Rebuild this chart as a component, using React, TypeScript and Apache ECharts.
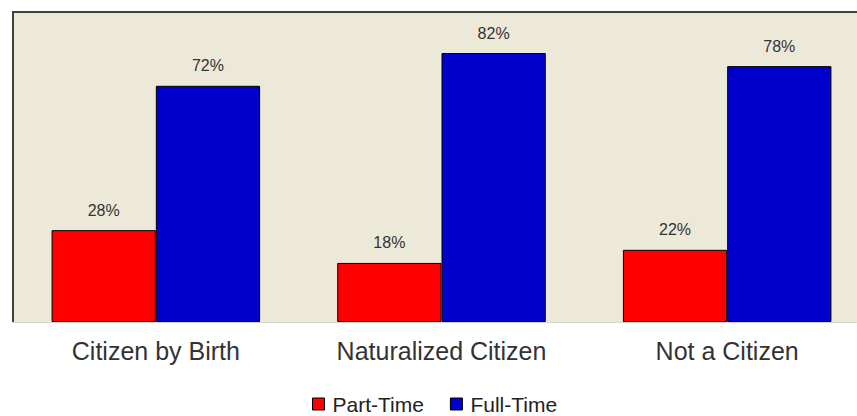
import React, { useEffect, useRef } from "react";
import * as echarts from "echarts";

const categories = ["Citizen by Birth", "Naturalized Citizen", "Not a Citizen"];
const partTime = [28, 18, 22];
const fullTime = [72, 82, 78];
const seriesNames = ["Part-Time", "Full-Time"];

const FONT = "'Liberation Sans', Arial, sans-serif";

export default function App() {
  const ref = useRef<HTMLDivElement>(null);
  useEffect(() => {
    if (!ref.current) return;
    const chart = echarts.init(ref.current, null, { renderer: "svg" });
    const label = {
      show: true,
      position: "top" as const,
      distance: 12,
      formatter: "{c}%",
      color: "#333",
      fontSize: 16,
      fontFamily: FONT,
    };
    chart.setOption({
      animation: false,
      grid: {
        left: 13,
        right: 0,
        top: 12,
        bottom: 94,
        show: true,
        backgroundColor: "#ECE9D8",
        borderWidth: 0,
      },
      legend: {
        top: 393,
        left: 312,
        padding: 0,
        itemWidth: 12,
        itemHeight: 12,
        itemGap: 26,
        icon: "rect",
        itemStyle: { borderColor: "#000", borderWidth: 1 },
        textStyle: { fontSize: 21, lineHeight: 22, color: "#222", fontFamily: FONT, padding: [0, 0, 0, 3] },
        data: seriesNames,
      },
      xAxis: {
        type: "category",
        data: categories,
        axisLine: { show: true, lineStyle: { color: "#ccc", type: "dotted", width: 1 } },
        axisTick: { show: false },
        axisLabel: { color: "#333", fontSize: 25, fontFamily: FONT, margin: 16 },
      },
      yAxis: {
        type: "value",
        min: 0,
        max: 94.5,
        show: false,
        splitLine: { show: false },
      },
      graphic: [
        {
          type: "line",
          shape: { x1: 13, y1: 11, x2: 13, y2: 322 },
          style: { stroke: "#404040", lineWidth: 2 },
          z: 10,
        },
        {
          type: "line",
          shape: { x1: 12, y1: 12, x2: 870, y2: 12 },
          style: { stroke: "#404040", lineWidth: 2 },
          z: 10,
        },
      ],
      series: [
        {
          name: seriesNames[0],
          type: "bar",
          data: partTime,
          barGap: "0%",
          barCategoryGap: "27%",
          itemStyle: { color: "#FF0000", borderColor: "#000", borderWidth: 1 },
          label,
        },
        {
          name: seriesNames[1],
          type: "bar",
          data: fullTime,
          barGap: "0%",
          barCategoryGap: "27%",
          itemStyle: { color: "#0000CC", borderColor: "#000", borderWidth: 1 },
          label,
        },
      ],
    });
    return () => chart.dispose();
  }, []);
  return (
    <div style={{ position: "absolute", left: 0, top: 0, width: 857, height: 416, overflow: "hidden", background: "#fff" }}>
      <div ref={ref} style={{ width: 870, height: 416 }} />
    </div>
  );
}
